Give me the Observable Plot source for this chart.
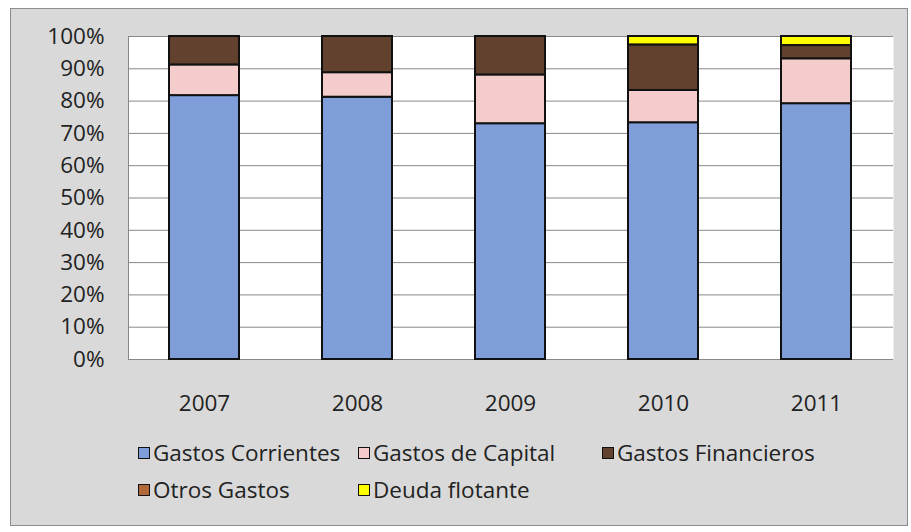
<!DOCTYPE html>
<html><head><meta charset="utf-8">
<script src="https://cdn.jsdelivr.net/npm/d3@7"></script>
<script src="https://cdn.jsdelivr.net/npm/@observablehq/plot@0.6"></script>
<style>
body{margin:0;background:#fff;font-family:"Open Sans",sans-serif;}
#box{position:absolute;left:10px;top:8px;width:896px;height:516px;background:#d9d9d9;border:1px solid #8c8c8c;}
#chart{position:absolute;left:0;top:0;}
#legend{position:absolute;left:127px;top:430px;display:grid;grid-template-columns:220px 244px auto;row-gap:10px;font-size:22.5px;color:#222;}
.item{display:flex;align-items:center;height:27px;white-space:nowrap;}
.sw{width:10px;height:10px;border:1.5px solid #111;margin-right:3px;}
</style></head>
<body><div id="box"><div id="chart"></div><div id="legend"></div></div>
<script>
const years = ["2007","2008","2009","2010","2011"];
const series = ["Gastos Corrientes","Gastos de Capital","Gastos Financieros","Otros Gastos","Deuda flotante"];
const colors = ["#7f9dd8","#f3cccb","#62412e","#b06a3a","#ffff00"];
const gastosCorrientes = [81.7, 81.2, 73.0, 73.3, 79.2];
const gastosCapital = [9.5, 7.6, 15.1, 10.0, 13.9];
const gastosFinancieros = [8.8, 11.2, 11.9, 14.1, 4.1];
const otrosGastos = [0, 0, 0, 0, 0];
const deudaFlotante = [0, 0, 0, 2.6, 2.8];
const yTicks = [0,10,20,30,40,50,60,70,80,90,100];

const cols = [gastosCorrientes, gastosCapital, gastosFinancieros, otrosGastos, deudaFlotante];
const data = [];
years.forEach((y,i)=>series.forEach((s,j)=>{ if(cols[j][i]>0) data.push({year:y, series:s, value:cols[j][i]/100}); }));

const chart = Plot.plot({
  width: 895, height: 420,
  marginLeft: 117, marginRight: 13, marginTop: 27, marginBottom: 70,
  style:{fontFamily:"'Open Sans',sans-serif", fontSize:"22.5px", color:"#222", background:"transparent"},
  x:{domain:years, paddingInner:0.54, paddingOuter:0.27, label:null, tickSize:0, tickPadding:36},
  y:{domain:[0,1], ticks:yTicks.map(d=>d/100), tickFormat:d=>Math.round(d*100)+"%", label:null, tickSize:0, tickPadding:24},
  color:{domain:series, range:colors},
  marks:[
    Plot.frame({fill:"white", stroke:"none"}),
    Plot.gridY(yTicks.map(d=>d/100), {stroke:"#888", strokeOpacity:1, strokeWidth:1}),
    Plot.frame({anchor:"left", stroke:"#888"}),
    Plot.barY(data, Plot.stackY({order:series, x:"year", y:"value", fill:"series", stroke:"#111", strokeWidth:2})),
  ]
});
document.getElementById("chart").appendChild(chart);
const lg = document.getElementById("legend");
series.forEach((s,j)=>{
  const it = document.createElement("div"); it.className="item";
  it.innerHTML = `<span class="sw" style="background:${colors[j]}"></span><span>${s}</span>`;
  lg.appendChild(it);
});
</script></body></html>
